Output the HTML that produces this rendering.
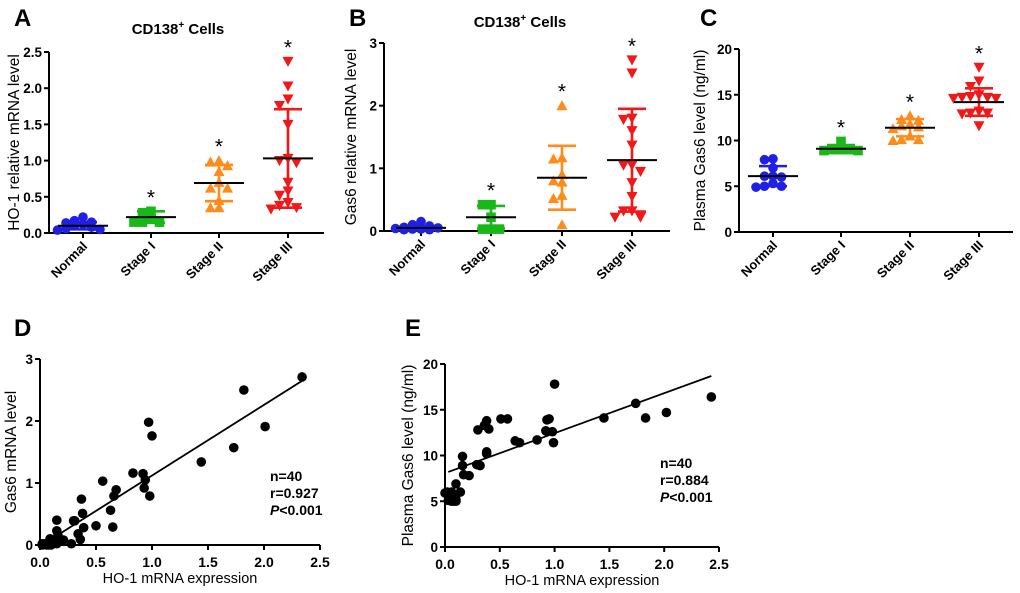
<!DOCTYPE html>
<html><head><meta charset="utf-8"><style>
html,body{margin:0;padding:0;background:#fff;}
svg{display:block;font-family:"Liberation Sans",Arial,sans-serif;}
</style></head><body>
<svg id="fig" width="1020" height="593" viewBox="0 0 1020 593" xmlns="http://www.w3.org/2000/svg"></svg>
<script>
// ---------- data ----------
const categories = ["Normal","Stage I","Stage II","Stage III"];
const colors = ["#1f1fe6","#18b818","#ff8c1a","#f01818"];
const shapes = ["circle","square","tri-up","tri-down"];

const hoNormal = [0.22,0.17,0.15,0.14,0.12,0.1,0.08,0.06,0.05,0.04];
const hoStage1 = [0.3,0.28,0.2,0.15,0.15,0.15];
const hoStage2 = [1.0,0.98,0.93,0.85,0.7,0.62,0.62,0.45,0.35,0.35];
const hoStage3 = [2.37,2.03,1.85,1.76,1.5,1.03,1.0,0.97,0.7,0.58,0.52,0.42,0.38,0.35,0.33];
const hoMean = [0.1,0.22,0.69,1.03];
const hoSD = [0.05,0.08,0.25,0.68];

const gasNormal = [0.15,0.1,0.08,0.06,0.05,0.04,0.03,0.02,0.02,0.03];
const gasStage1 = [0.42,0.42,0.22,0.03,0.03,0.03];
const gasStage2 = [2.0,1.17,1.15,0.9,0.8,0.78,0.57,0.52,0.1];
const gasStage3 = [2.73,2.52,1.8,1.78,1.6,1.37,1.05,1.05,0.95,0.77,0.55,0.32,0.32,0.22,0.22];
const gasMean = [0.05,0.22,0.85,1.13];
const gasSD = [0.03,0.18,0.51,0.82];

const plNormal = [8.0,7.9,7.0,6.1,6.1,6.0,5.3,5.0,5.0,4.9];
const plStage1 = [9.9,9.0,9.0,9.0,8.9,8.9];
const plStage2 = [12.7,12.3,12.2,11.8,11.6,11.5,11.3,10.5,10.1,10.1,10.0];
const plStage3 = [18.0,16.5,15.9,15.0,14.8,14.7,14.7,14.6,14.6,13.2,13.0,13.0,12.9,11.6];
const plMean = [6.1,9.1,11.4,14.2];
const plSD = [1.1,0.4,0.95,1.5];

const aTicks = ["0.0","0.5","1.0","1.5","2.0","2.5"];
const bTicks = ["0","1","2","3"];
const cTicks = ["0","5","10","15","20"];
const scTicksX = ["0.0","0.5","1.0","1.5","2.0","2.5"];
const dTicksY = ["0","1","2","3"];
const eTicksY = ["0","5","10","15","20"];

const dX = [2.34,1.82,2.01,1.73,1.44,0.97,1.0,0.83,0.92,0.94,0.93,0.98,0.56,0.68,0.66,0.63,0.65,0.5,0.37,0.38,0.39,0.31,0.3,0.34,0.36,0.28,0.15,0.15,0.16,0.21,0.15,0.09,0.08,0.06,0.04,0.02,0.12,0.1,0.08,0.02];
const dY = [2.71,2.5,1.91,1.57,1.34,1.98,1.76,1.16,1.15,1.05,0.92,0.79,1.03,0.89,0.79,0.56,0.29,0.31,0.74,0.51,0.28,0.39,0.39,0.18,0.09,0.02,0.4,0.23,0.16,0.08,0.02,0.1,0.04,0.0,0.02,0.02,0.05,0.0,0.0,0.0];
const dFit = [1.14,-0.02]; // slope, intercept
const dFitRange = [0.17,2.34];

const eX = [2.43,1.74,1.83,2.02,1.45,1.0,0.95,0.93,0.92,0.98,0.99,0.84,0.68,0.64,0.51,0.57,0.38,0.36,0.3,0.4,0.38,0.38,0.32,0.29,0.16,0.16,0.17,0.22,0.1,0.14,0.02,0.06,0.05,0.08,0.1,0.1,0.06,0.03,0.09,0.0];
const eY = [16.4,15.7,14.1,14.7,14.1,17.8,14.0,13.9,12.7,12.6,11.4,11.7,11.4,11.6,14.0,14.0,13.8,13.3,12.8,12.9,10.4,10.2,8.9,9.0,9.9,8.9,7.9,7.8,6.9,6.0,6.0,6.0,5.1,5.0,5.2,5.0,5.0,5.1,5.5,5.9];
const eFit = [4.37,8.07];
const eFitRange = [0.03,2.43];

// ---------- helpers ----------
const NS="http://www.w3.org/2000/svg";
const svg=document.getElementById('fig');
function mk(tag,attrs,parent){const e=document.createElementNS(NS,tag);for(const k in attrs)e.setAttribute(k,attrs[k]);(parent||svg).appendChild(e);return e;}
function txt(s,attrs,parent){const t=mk('text',attrs,parent);t.textContent=s;return t;}
function linScale(d0,d1,r0,r1){return v=>r0+(v-d0)*(r1-r0)/(d1-d0);}

function marker(g,shape,x,y,r,color){
  let el;
  if(shape==='circle') el=mk('circle',{cx:x,cy:y,r:r,fill:color},g);
  else if(shape==='square') el=mk('rect',{x:x-r,y:y-r,width:2*r,height:2*r,fill:color},g);
  else if(shape==='tri-up') el=mk('polygon',{points:`${x},${y-r*1.15} ${x+r*1.15},${y+r*0.95} ${x-r*1.15},${y+r*0.95}`,fill:color},g);
  else el=mk('polygon',{points:`${x},${y+r*1.15} ${x+r*1.15},${y-r*0.95} ${x-r*1.15},${y-r*0.95}`,fill:color},g);
  return el;
}

function yAxis(g,ticks,y,x0){
  mk('line',{x1:x0,y1:y(+ticks[0])+1,x2:x0,y2:y(+ticks[ticks.length-1]),stroke:'#000','stroke-width':2},g);
  ticks.forEach(t=>{
    const tk=mk('line',{x1:x0-5,y1:y(+t),x2:x0,y2:y(+t),stroke:'#000','stroke-width':2},g);
    
    
    const l=txt(t,{x:x0-7,y:y(+t)+5,'text-anchor':'end','font-size':13.5,'font-weight':'bold'},g);
    
    
  });
}

function dotPanel(o){
  const g=mk('g',{});
  
  
  const y=linScale(0,o.ymax,o.y0,o.y1);
  yAxis(g,o.ticks,y,o.ax);
  mk('line',{x1:o.ax,y1:o.y0,x2:o.axEnd,y2:o.y0,stroke:'#000','stroke-width':2},g);
  o.groups.forEach((vals,i)=>{
    const cx=o.cx[i];
    const tk=mk('line',{x1:cx,y1:o.y0,x2:cx,y2:o.y0+5,stroke:'#000','stroke-width':2},g);
    
    
    const lx=cx+5, ly=o.y0+14;
    const l=txt(categories[i],{x:lx,y:ly,'text-anchor':'end','font-size':13,'font-weight':'bold',transform:`rotate(-45 ${lx} ${ly})`},g);
    
    
    const offs=[0,-1,1,-2,2,-3,3];
    const sorted=vals.map((v,k)=>[v,k]).sort((a,b)=>b[0]-a[0]);
    let lastY=-1e9,cnt=0;
    sorted.forEach(([v])=>{
      const py=y(v);
      if(Math.abs(py-lastY)<7){cnt++;}else{cnt=0;lastY=py;}
      const px=cx+offs[cnt%offs.length]*8.5;
      const m=marker(g,shapes[i],px,py,4.8,colors[i]);
      
      
    });
    const mn=o.mean[i], sd=o.sd[i];
    const ebar=mk('path',{d:`M${cx},${y(mn-sd)}V${y(mn+sd)}M${cx-14},${y(mn+sd)}H${cx+14}M${cx-14},${y(mn-sd)}H${cx+14}`,stroke:colors[i],'stroke-width':2.6,fill:'none'},g);
    
    
    const ml=mk('line',{x1:cx-25,y1:y(mn),x2:cx+25,y2:y(mn),stroke:'#000','stroke-width':2},g);
    
    
    if(i>0){
      const top=Math.max(...vals);
      const s=txt('*',{x:cx,y:y(Math.max(top,mn+sd))-7,'text-anchor':'middle','font-size':21},g);
      
      
    }
  });
  const yt=txt(o.ytitle,{x:0,y:0,'text-anchor':'middle','font-size':15.5,transform:`translate(${o.ytx},${(o.y0+o.y1)/2}) rotate(-90)`},g);
  
  
}

function scatterPanel(o){
  const g=mk('g',{});
  
  
  const x=linScale(0,2.5,o.ax,o.axEnd);
  const y=linScale(0,o.ymax,o.y0,o.y1);
  yAxis(g,o.yticks,y,o.ax);
  mk('line',{x1:o.ax,y1:o.y0,x2:o.axEnd,y2:o.y0,stroke:'#000','stroke-width':2},g);
  scTicksX.forEach(t=>{
    const tk=mk('line',{x1:x(+t),y1:o.y0,x2:x(+t),y2:o.y0+5,stroke:'#000','stroke-width':2},g);
    
    
    const l=txt(t,{x:x(+t),y:o.y0+22,'text-anchor':'middle','font-size':14,'font-weight':'bold'},g);
    
    
  });
  o.xs.forEach((xv,i)=>{
    const c=mk('circle',{cx:x(xv),cy:y(o.ys[i]),r:4.8,fill:'#000'},g);
    
    
  });
  const [a,b]=o.fit,[r0,r1]=o.range;
  const fl=mk('line',{x1:x(r0),y1:y(a*r0+b),x2:x(r1),y2:y(a*r1+b),stroke:'#000','stroke-width':1.8},g);
  
  
  const xt=txt('HO-1 mRNA expression',{x:(o.ax+o.axEnd)/2,y:o.y0+38,'text-anchor':'middle','font-size':14.5},g);
  
  
  const yt=txt(o.ytitle,{x:0,y:0,'text-anchor':'middle','font-size':15.5,transform:`translate(${o.ytx},${(o.y0+o.y1)/2}) rotate(-90)`},g);
  
  
  const st=mk('text',{x:o.sx,y:o.sy,'font-size':14,'font-weight':'bold'},g);
  
  
  st.innerHTML=`<tspan x="${o.sx}" dy="0">n=40</tspan><tspan x="${o.sx}" dy="17">r=${o.r}</tspan><tspan x="${o.sx}" dy="17" font-style="italic">P</tspan><tspan>&lt;0.001</tspan>`;
}

dotPanel({name:'panel-a-ho1-chart',groups:[hoNormal,hoStage1,hoStage2,hoStage3],mean:hoMean,sd:hoSD,ymax:2.5,ticks:aTicks,y0:233,y1:52,ax:49,axEnd:324,cx:[83,151,219,288],ytitle:'HO-1 relative mRNA level',ytx:19});
dotPanel({name:'panel-b-gas6-chart',groups:[gasNormal,gasStage1,gasStage2,gasStage3],mean:gasMean,sd:gasSD,ymax:3,ticks:bTicks,y0:231,y1:43,ax:384,axEnd:670,cx:[421,491,562,632],ytitle:'Gas6 relative mRNA level',ytx:356});
dotPanel({name:'panel-c-plasma-chart',groups:[plNormal,plStage1,plStage2,plStage3],mean:plMean,sd:plSD,ymax:20,ticks:cTicks,y0:232,y1:49,ax:739,axEnd:1013,cx:[773,841,910,979],ytitle:'Plasma Gas6 level (ng/ml)',ytx:705});
scatterPanel({name:'panel-d-scatter',xs:dX,ys:dY,fit:dFit,range:dFitRange,ymax:3,yticks:dTicksY,y0:545,y1:359,ax:40,axEnd:320,ytitle:'Gas6 mRNA level',ytx:16,sx:270,sy:481,r:'0.927'});
scatterPanel({name:'panel-e-scatter',xs:eX,ys:eY,fit:eFit,range:eFitRange,ymax:20,yticks:eTicksY,y0:547,y1:364,ax:445,axEnd:719,ytitle:'Plasma Gas6 level (ng/ml)',ytx:413,sx:660,sy:468,r:'0.884'});

[['A',14,26],['B',349,26],['C',700,26],['D',14,336],['E',405,336]].forEach(([s,x,y])=>{
  const t=txt(s,{x:x,y:y,'font-size':24,'font-weight':'bold'});
  
  
});
[[178,34],[520,27]].forEach(([x,y])=>{
  const t=mk('text',{x:x,y:y,'text-anchor':'middle','font-size':15,'font-weight':'bold'});
  
  
  t.innerHTML='CD138<tspan dy="-6" font-size="10">+</tspan><tspan dy="6"> Cells</tspan>';
});
</script>
</body></html>
